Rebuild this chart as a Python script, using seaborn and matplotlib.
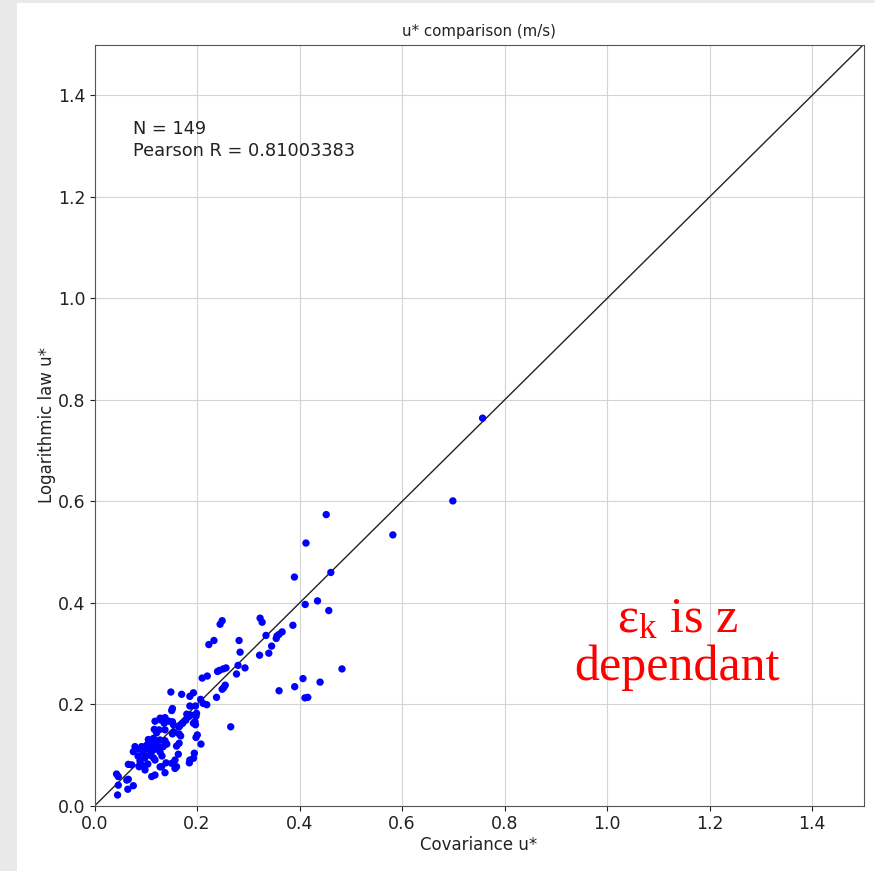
import matplotlib
matplotlib.use("Agg")
import matplotlib.pyplot as plt
from matplotlib.patches import Rectangle
import numpy as np
import pandas as pd
import seaborn as sns

# Friction velocity estimates: eddy covariance vs. logarithmic wind profile
cov_ustar = [
    0.757, 0.699, 0.582, 0.452, 0.4125, 0.461, 0.390, 0.435, 0.411, 0.457,
    0.323, 0.327, 0.387, 0.249, 0.245, 0.233, 0.223, 0.282, 0.3345, 0.356,
    0.3545, 0.360, 0.366, 0.3455, 0.340, 0.322, 0.284, 0.280, 0.2935, 0.277,
    0.2565, 0.251, 0.2435, 0.240, 0.220, 0.210, 0.255, 0.252, 0.249, 0.4827,
    0.4067, 0.440, 0.3905, 0.360, 0.4105, 0.416, 0.193, 0.186, 0.238, 0.207,
    0.170, 0.2657, 0.212, 0.219, 0.197,
    0.149, 0.186, 0.199, 0.198, 0.152, 0.1506, 0.184, 0.128, 0.118, 0.136,
    0.145, 0.154, 0.152, 0.167, 0.196, 0.193, 0.197, 0.126, 0.1375, 0.121,
    0.168, 0.165, 0.2005, 0.198, 0.2077, 0.165, 0.160, 0.1635, 0.1947, 0.193,
    0.186, 0.185, 0.157, 0.1506, 0.1395, 0.128,
    0.188, 0.180, 0.130, 0.1375, 0.165, 0.172, 0.178, 0.1166, 0.1556, 0.152,
    0.105, 0.110, 0.1147, 0.120, 0.128, 0.1375, 0.141, 0.134, 0.079, 0.0854,
    0.0757, 0.092, 0.102, 0.1116, 0.119,
    0.128, 0.108, 0.098, 0.118, 0.1316, 0.0887, 0.104, 0.0726, 0.066, 0.0985,
    0.131, 0.160, 0.157, 0.118, 0.1116, 0.1375, 0.043, 0.0464, 0.063, 0.066,
    0.065, 0.0757, 0.0464, 0.045, 0.087, 0.092,
    0.095, 0.112, 0.122, 0.100, 0.085, 0.115, 0.125,
]
log_ustar = [
    0.764, 0.601, 0.534, 0.574, 0.518, 0.460, 0.451, 0.404, 0.397, 0.385,
    0.370, 0.362, 0.356, 0.365, 0.358, 0.326, 0.318, 0.326, 0.336, 0.335,
    0.330, 0.338, 0.343, 0.315, 0.301, 0.297, 0.303, 0.277, 0.272, 0.260,
    0.272, 0.270, 0.267, 0.265, 0.256, 0.252, 0.238, 0.233, 0.230, 0.270,
    0.251, 0.244, 0.235, 0.227, 0.213, 0.214, 0.223, 0.216, 0.214, 0.210,
    0.220, 0.156, 0.202, 0.1995, 0.197,
    0.2245, 0.197, 0.1826, 0.177, 0.192, 0.188, 0.176, 0.173, 0.167, 0.163,
    0.167, 0.160, 0.166, 0.159, 0.166, 0.163, 0.160, 0.150, 0.150, 0.144,
    0.138, 0.142, 0.140, 0.135, 0.122, 0.1235, 0.118, 0.102, 0.104, 0.094,
    0.0906, 0.085, 0.0906, 0.084, 0.085, 0.077,
    0.179, 0.181, 0.169, 0.174, 0.156, 0.163, 0.169, 0.151, 0.146, 0.142,
    0.131, 0.127, 0.133, 0.1286, 0.130, 0.1286, 0.122, 0.117, 0.117, 0.112,
    0.107, 0.117, 0.120, 0.117, 0.112,
    0.106, 0.100, 0.0945, 0.0906, 0.0985, 0.0886, 0.0827, 0.081, 0.082, 0.071,
    0.0774, 0.0774, 0.074, 0.061, 0.058, 0.0656, 0.063, 0.058, 0.051, 0.0526,
    0.033, 0.040, 0.041, 0.0217, 0.0774, 0.081,
    0.105, 0.108, 0.122, 0.112, 0.098, 0.095, 0.115,
]
axis_ticks = [0.0, 0.2, 0.4, 0.6, 0.8, 1.0, 1.2, 1.4]
n_obs = 149
pearson_r = "0.81003383"

df = pd.DataFrame({"cov": cov_ustar, "log": log_ustar})

sns.set_theme(style="ticks")
plt.rcParams["font.family"] = ["DejaVu Sans"]
plt.rcParams["mathtext.fontset"] = "custom"
plt.rcParams["mathtext.rm"] = "Liberation Serif"
plt.rcParams["mathtext.it"] = "Liberation Serif:italic"

fig = plt.figure(figsize=(8.75, 8.71), dpi=100, facecolor="#e9e9e9")
fig.patches.append(Rectangle((17 / 875, 0), 1 - 17 / 875, 868 / 871,
                             transform=fig.transFigure, facecolor="white",
                             edgecolor="none", zorder=-5))

ax = fig.add_axes([94.5 / 875, 65 / 871, 769 / 875, 761.5 / 871])
ax.set_facecolor("white")

sns.scatterplot(data=df, x="cov", y="log", ax=ax, color="blue", s=28,
                edgecolor="none", zorder=3)
ax.plot([0, 1.5], [0, 1.5], color="#222222", lw=1.0, zorder=2)

ax.set_xlim(0, 1.5)
ax.set_ylim(0, 1.5)
ax.set_xticks(axis_ticks)
ax.set_yticks(axis_ticks)
ax.set_xticklabels([f"{t:.1f}" for t in axis_ticks])
ax.set_yticklabels([f"{t:.1f}" for t in axis_ticks])
ax.grid(True, color="#d4d4d4", lw=0.8, zorder=0)
ax.set_axisbelow(True)
for sp in ax.spines.values():
    sp.set_visible(True)
    sp.set_color("#555555")
    sp.set_linewidth(0.8)
ax.tick_params(axis="both", labelsize=12.5, colors="#222222", length=3.5,
               width=0.8, direction="out", pad=3)

ax.set_title("u* comparison (m/s)", fontsize=10.8, color="#222222", pad=6)
ax.set_xlabel("Covariance u*", fontsize=12, color="#222222", labelpad=2)
ax.set_ylabel("Logarithmic law u*", fontsize=12, color="#222222", labelpad=1)

ax.text(0.075, 1.352, f"N = {n_obs}\nPearson R = {pearson_r}", fontsize=12.8,
        color="#222222", va="top", ha="left", linespacing=1.3)

fig.text(677.5 / 875, 1 - 644 / 871,
         "$\\mathrm{\\varepsilon_k}$ is z\ndependant",
         fontsize=36, color="#ff0000", family="Liberation Serif",
         ha="center", va="center", linespacing=1.05)

fig.savefig("out.png", dpi=100, facecolor=fig.get_facecolor())
